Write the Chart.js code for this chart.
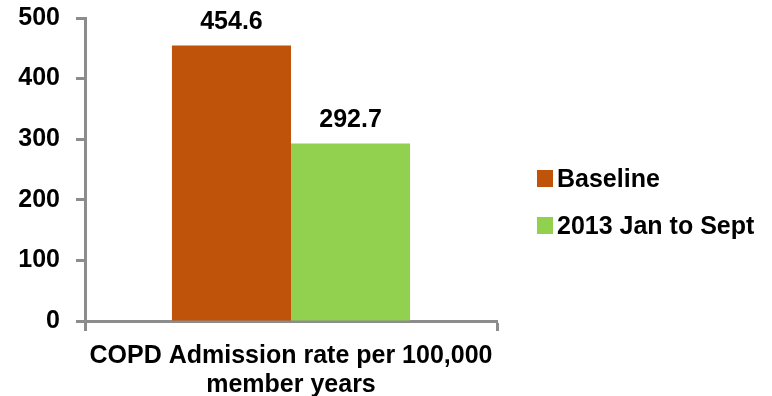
<!DOCTYPE html>
<html>
<head>
<meta charset="utf-8">
<script src="https://cdn.jsdelivr.net/npm/chart.js@4.4.1/dist/chart.umd.min.js"></script>
<style>
  html, body { margin: 0; padding: 0; background: #fff; }
  #wrap { position: relative; width: 772px; height: 396px; }
  #legend {
    position: absolute; left: 537px; top: 155px;
    font: bold 25px "Liberation Sans", Arial, sans-serif; color: #000;
  }
  #legend .item { display: flex; align-items: center; height: 47px; }
  #legend .box { width: 16px; height: 17px; margin-right: 4px; }
</style>
</head>
<body>
<div id="wrap">
  <canvas id="chart" width="772" height="396"></canvas>
  <div id="legend"></div>
</div>
<script>
const categories = [['COPD Admission rate per 100,000', 'member years']];
const seriesNames = ['Baseline', '2013 Jan to Sept'];
const baselineValues = [454.6];
const ytdValues = [292.7];
const seriesColors = ['#BE5309', '#92D050'];
const yTicks = [0, 100, 200, 300, 400, 500];

const font = { family: '"Liberation Sans", Arial, sans-serif', size: 25, weight: 'bold' };

// value labels above each bar
const barLabels = {
  id: 'barLabels',
  afterDatasetsDraw(chart) {
    const ctx = chart.ctx;
    ctx.save();
    ctx.font = 'bold 25px "Liberation Sans", Arial, sans-serif';
    ctx.fillStyle = '#000';
    ctx.textAlign = 'center';
    ctx.textBaseline = 'alphabetic';
    chart.data.datasets.forEach((ds, i) => {
      chart.getDatasetMeta(i).data.forEach((bar, j) => {
        ctx.fillText(ds.data[j].toFixed(1), bar.x, bar.y - 17);
      });
    });
    ctx.restore();
  }
};

const chart = new Chart(document.getElementById('chart'), {
  type: 'bar',
  data: {
    labels: categories,
    datasets: [
      { label: seriesNames[0], data: baselineValues, backgroundColor: seriesColors[0] },
      { label: seriesNames[1], data: ytdValues, backgroundColor: seriesColors[1] }
    ]
  },
  options: {
    responsive: false,
    animation: false,
    layout: { padding: { left: 0, top: 18, right: 275, bottom: 0 } },
    datasets: { bar: { categoryPercentage: 0.578, barPercentage: 1 } },
    plugins: { legend: { display: false }, tooltip: { enabled: false } },
    scales: {
      x: {
        grid: { drawOnChartArea: false, drawTicks: true, tickLength: 10, tickWidth: 3, tickColor: '#8c8c8c', offset: true },
        border: { color: '#8c8c8c', width: 3 },
        ticks: { color: '#000', font: { ...font, lineHeight: 1.14 }, padding: 11, maxRotation: 0 },
        afterFit(scale) { scale.height = 75; }
      },
      y: {
        min: 0,
        max: 500,
        afterBuildTicks(scale) { scale.ticks = yTicks.map(v => ({ value: v })); },
        grid: { drawOnChartArea: false, drawTicks: true, tickLength: 9, tickWidth: 3, tickColor: '#8c8c8c' },
        border: { color: '#8c8c8c', width: 3 },
        ticks: { color: '#000', font: font, padding: 16 },
        afterFit(scale) {
          scale.width = 85;
          scale.paddingTop = 0;
          scale.paddingBottom = 0;
        }
      }
    }
  },
  plugins: [barLabels]
});

// legend built from the datasets
const legend = document.getElementById('legend');
chart.data.datasets.forEach(ds => {
  const item = document.createElement('div');
  item.className = 'item';
  const box = document.createElement('span');
  box.className = 'box';
  box.style.background = ds.backgroundColor;
  const text = document.createElement('span');
  text.textContent = ds.label;
  item.appendChild(box);
  item.appendChild(text);
  legend.appendChild(item);
});
</script>
</body>
</html>
